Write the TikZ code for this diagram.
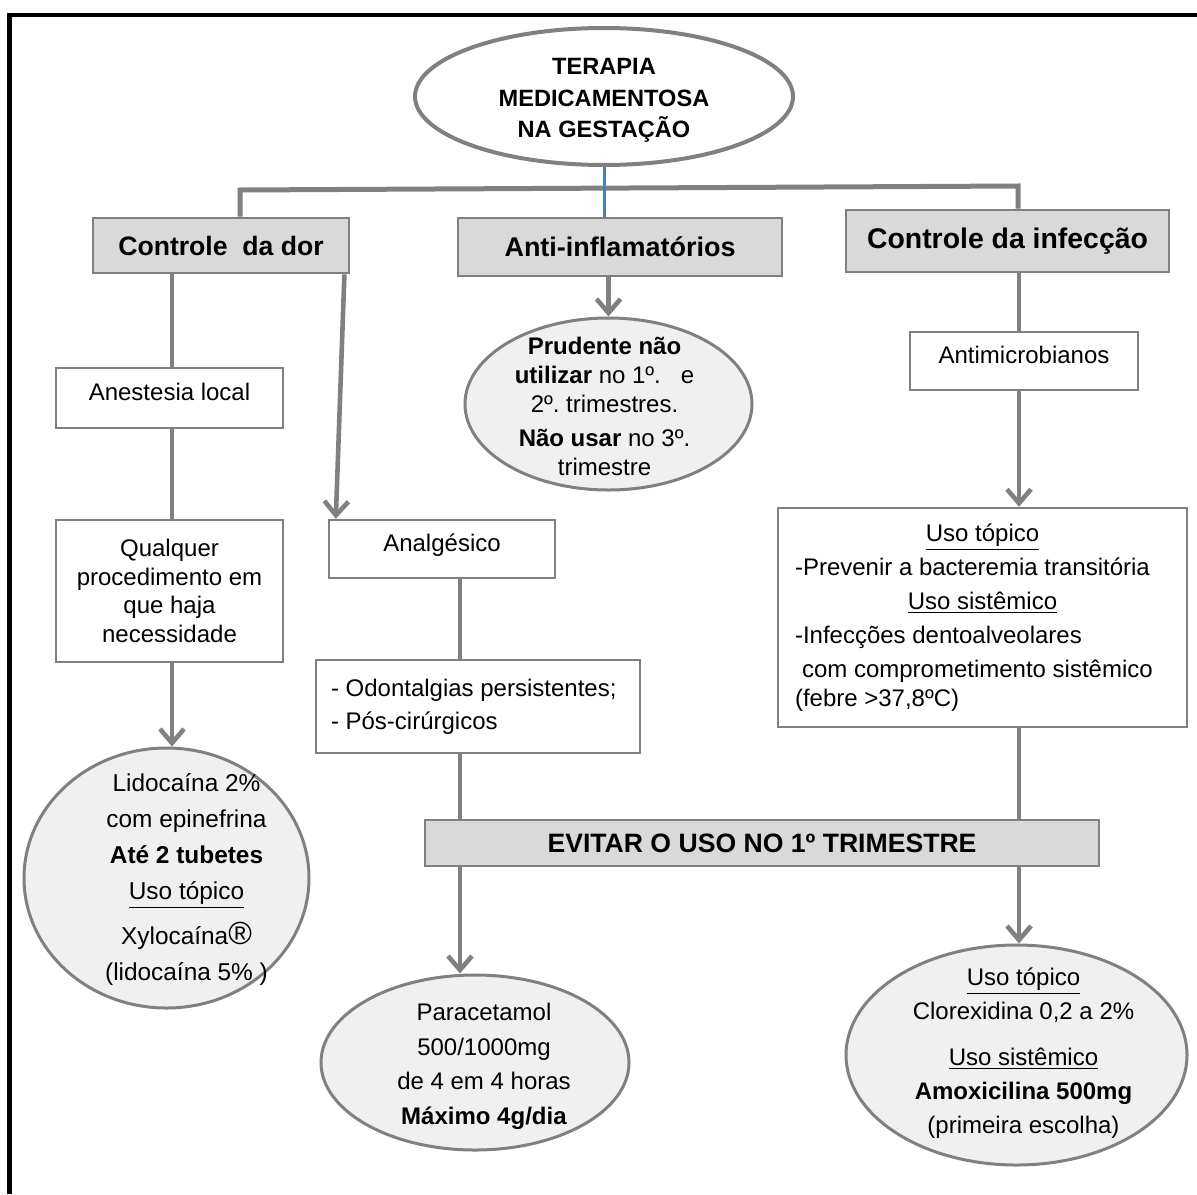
\documentclass[tikz,border=0pt]{standalone}
\usepackage{fontspec}
\setmainfont{Liberation Sans}
\frenchspacing
\usetikzlibrary{arrows.meta,shapes.geometric,positioning}
\definecolor{cinzaborda}{HTML}{808080}
\definecolor{cinzafundo}{HTML}{D9D9D9}
\definecolor{cinzaclaro}{HTML}{F0F0F0}
\definecolor{azullinha}{HTML}{4A7EBB}

\begin{document}
\begin{tikzpicture}[x=0.5pt, y=-0.5pt,
  titulo/.style={draw=cinzaborda, fill=cinzafundo, line width=1.4pt, inner sep=0pt,
    font=\bfseries\fontsize{13.3}{15}\selectfont},
  caixa/.style={draw=cinzaborda, fill=white, line width=1.2pt, inner sep=0pt,
    align=center, font=\fontsize{12}{14.3}\selectfont},
  subida/.style={text height=9pt, text depth=6.5pt},
  elipse/.style={ellipse, draw=cinzaborda, fill=cinzaclaro, line width=1.5pt, inner sep=0pt},
  texto/.style={align=center, inner sep=0pt, font=\fontsize{12}{17}\selectfont},
  linha/.style={cinzaborda, line width=2.3pt},
  seta/.style={linha, -{Straight Barb[length=7pt,width=12pt]}},
  barra/.style={cinzaborda, line width=2.5pt}]

\useasboundingbox (0,0) rectangle (1197,1194);
\draw[black, line width=2.2pt] (9.5,1194) -- (9.5,15) -- (1197,15);

% ================= topo =================
\node[elipse, fill=white, line width=2pt, minimum width=189pt, minimum height=68.5pt] (terapia) at (604,96.5) {};
\node[texto, font=\bfseries\fontsize{11.8}{15.75}\selectfont] (terapiaT) at ([yshift=-2pt]terapia.center)
  {TERAPIA\\MEDICAMENTOSA\\NA GESTAÇÃO};

\node[titulo, minimum width=128pt, minimum height=27.5pt] (dor) at (221,245.5) {Controle\ \ da dor};
\node[titulo, minimum width=162pt, minimum height=29pt, font=\bfseries\fontsize{13.5}{15}\selectfont]
  (antiinf) at (620,247) {Anti-inflamatórios};
\node[titulo, minimum width=161.5pt, minimum height=31pt, font=\bfseries\fontsize{14.2}{16}\selectfont]
  (infec) at (1007.5,241) {Controle da infecção};

% ================= coluna da dor =================
\node[caixa, subida, minimum width=113.5pt, minimum height=30pt] (anest) at (169.5,398) {Anestesia local};
\node[caixa, minimum width=113.5pt, minimum height=71pt] (qualquer) at (169.5,591)
  {Qualquer\\procedimento em\\que haja\\necessidade};
\node[elipse, minimum width=142.5pt, minimum height=130pt] (lido) at (166.5,878) {};
\node[texto, font=\fontsize{12.2}{18}\selectfont] (lidoT) at ([xshift=10pt,yshift=-1pt]lido.center)
  {Lidocaína 2\%\\com epinefrina\\\textbf{Até 2 tubetes}\\\underline{Uso tópico}\\[4.5pt]
   Xylocaína{\fontsize{16}{16}\selectfont ®}\\(lidocaína 5\% )};

\node[caixa, subida, minimum width=113pt, minimum height=29pt] (analg) at (442,549) {Analgésico};
\node[caixa, align=flush left, text width=147pt, inner xsep=7.5pt, minimum height=46.5pt,
  font=\fontsize{12}{16.5}\selectfont] (odont) at (478,706.5)
  {- Odontalgias persistentes;\\- Pós-cirúrgicos};
\node[elipse, minimum width=154pt, minimum height=87.5pt] (parac) at (475,1062.5) {};
\node[texto, font=\fontsize{12}{17.3}\selectfont] (paracT) at ([xshift=4.5pt,yshift=-2pt]parac.center)
  {Paracetamol\\500/1000mg\\de 4 em 4 horas\\\textbf{Máximo 4g/dia}};

% ================= anti-inflamatorios =================
\node[elipse, minimum width=143.5pt, minimum height=86pt] (prud) at (608.5,404) {};
\node[texto, font=\fontsize{12}{14.5}\selectfont] (prudT) at ([xshift=-2pt,yshift=-1pt]prud.center)
  {\textbf{Prudente não}\\\textbf{utilizar} no 1º.\ \ \ e\\2º. trimestres.\\[2.5pt]
   \textbf{Não usar} no 3º.\\trimestre};

\node[titulo, minimum width=337pt, minimum height=23pt] (evitar) at (762,843) {EVITAR O USO NO 1º TRIMESTRE};

% ================= coluna da infeccao =================
\node[caixa, subida, minimum width=114pt, minimum height=29pt] (antimic) at (1024,361) {Antimicrobianos};
\node[caixa, align=flush left, text width=187.5pt, inner xsep=8.5pt, minimum height=109.5pt,
  font=\fontsize{12}{17}\selectfont] (uso) at (982.5,617.5)
  {\makebox[187.5pt]{\underline{Uso tópico}}\\
   -Prevenir a bacteremia transitória\\
   \makebox[187.5pt]{\underline{Uso sistêmico}}\\
   -Infecções dentoalveolares\\
   \hspace*{3.5pt}com comprometimento sistêmico\\[-2.5pt]
   (febre >37,8ºC)};
\node[elipse, minimum width=170.5pt, minimum height=110pt] (amox) at (1016.5,1055) {};
\node[texto] (amoxT) at ([xshift=3.5pt,yshift=1pt]amox.center)
  {\underline{Uso tópico}\\Clorexidina 0,2 a 2\%\\[6pt]\underline{Uso sistêmico}\\
   \textbf{Amoxicilina 500mg}\\(primeira escolha)};

% ================= ligacoes =================
\coordinate (eixoE) at (172,0);
\coordinate (eixoA) at (460,0);
\coordinate (eixoD) at (1019,0);
\coordinate (barraE) at (240,190);
\coordinate (barraD) at (1018,186);

\draw[barra] (barraE |- dor.north) -- (barraE) -- (barraD) -- (barraD |- infec.north);
\draw[azullinha, line width=1.5pt] (terapia.south) -- (terapia.south |- antiinf.north);

\draw[linha] (eixoE |- dor.south) -- (eixoE |- anest.north);
\draw[linha] (eixoE |- anest.south) -- (eixoE |- qualquer.north);
\draw[seta] (eixoE |- qualquer.south) -- (eixoE |- lido.north);

\draw[seta] ([xshift=-3pt]dor.south east) -- ([xshift=4pt]analg.north west);
\draw[linha] (eixoA |- analg.south) -- (eixoA |- odont.north);
\draw[linha] (eixoA |- odont.south) -- (eixoA |- evitar.north);
\draw[seta] (eixoA |- evitar.south) -- (eixoA |- parac.north);

\draw[seta] (prud.north |- antiinf.south) -- (prud.north);

\draw[linha] (eixoD |- infec.south) -- (eixoD |- antimic.north);
\draw[seta] (eixoD |- antimic.south) -- (eixoD |- uso.north);
\draw[linha] (eixoD |- uso.south) -- (eixoD |- evitar.north);
\draw[seta] (eixoD |- evitar.south) -- (eixoD |- amox.north);

\end{tikzpicture}
\end{document}
